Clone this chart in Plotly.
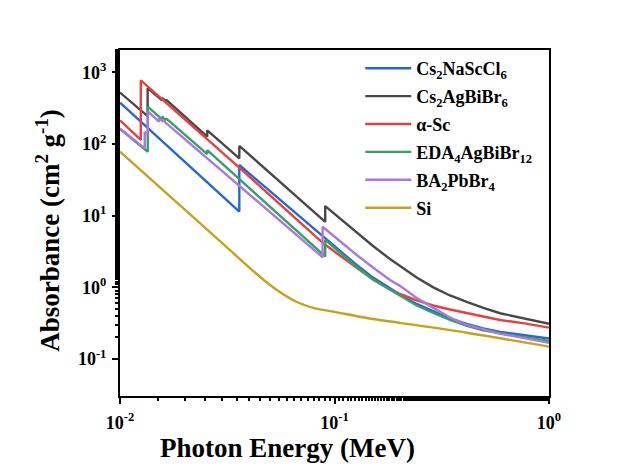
import plotly.graph_objects as go

# ---- data ----
names = [
    "Cs<sub>2</sub>NaScCl<sub>6</sub>",
    "Cs<sub>2</sub>AgBiBr<sub>6</sub>",
    "α-Sc",
    "EDA<sub>4</sub>AgBiBr<sub>12</sub>",
    "BA<sub>2</sub>PbBr<sub>4</sub>",
    "Si",
]
colors = ["#2468d4", "#484848", "#e84040", "#35a06a", "#ad78dc", "#c9a01c"]

e_cs2nasccl6 = [0.01, 0.03599, 0.03599, 0.0887, 0.1269, 0.1512, 0.1814, 0.2020, 0.2416,
                0.2888, 0.3455, 0.4134, 0.494, 0.591, 0.769, 1.0]
a_cs2nasccl6 = [377, 11.4, 50.9, 5.09, 2.05, 1.37, 0.965, 0.796, 0.587,
                0.461, 0.368, 0.31, 0.267, 0.239, 0.213, 0.194]

e_cs2agbibr6 = [0.01, 0.01345, 0.01345, 0.0157, 0.0157, 0.0164, 0.0164, 0.02551, 0.02551,
                0.03599, 0.03599, 0.0905, 0.0905, 0.1181, 0.1269, 0.1512, 0.1814, 0.2020,
                0.2416, 0.2888, 0.3455, 0.4134, 0.494, 0.591, 0.769, 1.0]
a_cs2agbibr6 = [522, 245, 600, 405, 440, 395, 415, 127, 155,
                63, 94, 8.2, 13.6, 7.03, 5.93, 3.78, 2.49, 1.99,
                1.37, 1.0, 0.771, 0.626, 0.516, 0.436, 0.366, 0.31]

e_alpha_sc = [0.01, 0.0125, 0.0125, 0.01622, 0.0249, 0.03565, 0.062, 0.0887, 0.1269,
              0.1512, 0.1814, 0.2020, 0.2416, 0.2888, 0.3455, 0.4134, 0.494, 0.591, 0.769, 1.0]
a_alpha_sc = [213, 114, 770, 389, 126, 48, 10.8, 4.12, 1.87,
              1.29, 0.935, 0.809, 0.657, 0.559, 0.492, 0.436, 0.389, 0.351, 0.315, 0.274]

e_eda = [0.01, 0.01347, 0.01347, 0.01483, 0.0157, 0.0157, 0.0164, 0.0164, 0.02551, 0.02551,
         0.0905, 0.0905, 0.1269, 0.1512, 0.1814, 0.2020, 0.2416, 0.2888, 0.3455, 0.4134,
         0.494, 0.591, 0.769, 1.0]
a_eda = [162, 78, 331, 254, 220, 240, 215, 228, 72, 82,
         2.7, 4.6, 1.93, 1.29, 0.938, 0.773, 0.559, 0.44, 0.351, 0.29,
         0.251, 0.228, 0.202, 0.179]

e_ba2pbbr4 = [0.01, 0.01304, 0.01304, 0.01347, 0.01347, 0.0152, 0.0152, 0.01586, 0.01586,
              0.088, 0.088, 0.1181, 0.1269, 0.1512, 0.1814, 0.2020, 0.2416, 0.2888, 0.3455,
              0.4134, 0.494, 0.591, 0.769, 1.0]
a_ba2pbbr4 = [165, 87, 148, 136, 285, 205, 228, 207, 214,
              2.63, 7.0, 3.33, 2.83, 1.89, 1.27, 1.05, 0.711, 0.518, 0.38,
              0.299, 0.26, 0.226, 0.196, 0.168]

e_si = [0.01, 0.02773, 0.0396, 0.0474, 0.0567, 0.0676, 0.0812, 0.0987, 0.1413, 0.202, 0.4134, 1.0]
a_si = [78, 5.1, 1.95, 1.23, 0.83, 0.615, 0.51, 0.46, 0.374, 0.32, 0.233, 0.149]

series = [
    (e_cs2nasccl6, a_cs2nasccl6, "linear"),
    (e_cs2agbibr6, a_cs2agbibr6, "linear"),
    (e_alpha_sc, a_alpha_sc, "linear"),
    (e_eda, a_eda, "linear"),
    (e_ba2pbbr4, a_ba2pbbr4, "linear"),
    (e_si, a_si, "spline"),
]

x_tickvals = [0.01, 0.1, 1]
x_ticktext = ["10<sup>-2</sup>", "10<sup>-1</sup>", "10<sup>0</sup>"]
y_tickvals = [0.1, 1, 10, 100, 1000]
y_ticktext = ["10<sup>-1</sup>", "10<sup>0</sup>", "10<sup>1</sup>", "10<sup>2</sup>", "10<sup>3</sup>"]

FONT = "Liberation Serif, Times New Roman, serif"

fig = go.Figure()
for (e, a, shape), name, col in zip(series, names, colors):
    fig.add_trace(go.Scatter(
        x=e, y=a, mode="lines", name=name,
        line=dict(color=col, width=2.4, shape=shape),
        legendgroup=name,
    ))

axis_common = dict(
    type="log",
    showline=True, linewidth=2, linecolor="black", mirror=True,
    ticks="outside", ticklen=6, tickwidth=2, tickcolor="black",
    showgrid=False, zeroline=False,
    tickfont=dict(family=FONT, size=18, color="black", weight="bold"),
    minor=dict(ticks="outside", ticklen=3, tickwidth=1.5, tickcolor="black", showgrid=False),
)

fig.update_xaxes(**axis_common, range=[-2, 0],
                 tickvals=x_tickvals, ticktext=x_ticktext, ticklabelstandoff=3)
fig.update_yaxes(**axis_common, range=[-1.515, 3.311],
                 tickvals=y_tickvals, ticktext=y_ticktext, ticklabelstandoff=2)

fig.add_annotation(text="Photon Energy (MeV)", xref="paper", yref="paper",
                   x=0.39, y=-0.15, xanchor="center", yanchor="middle", showarrow=False,
                   font=dict(family=FONT, size=27, color="black", weight="bold"))
fig.add_annotation(text="Absorbance (cm<sup>2</sup> g<sup>-1</sup>)", xref="paper", yref="paper",
                   x=-0.168, y=0.48, xanchor="center", yanchor="middle", showarrow=False,
                   textangle=-90,
                   font=dict(family=FONT, size=27, color="black", weight="bold"))

fig.update_layout(
    width=621, height=476,
    margin=dict(l=120, r=72, t=50, b=80),
    paper_bgcolor="white", plot_bgcolor="white",
    showlegend=True,
    legend=dict(x=0.56, y=1.0, xanchor="left", yanchor="top",
                bgcolor="rgba(0,0,0,0)", borderwidth=0,
                font=dict(family=FONT, size=18, color="black", weight="bold"),
                itemwidth=46, tracegroupgap=1.5),
)

fig.write_html("out.html")
